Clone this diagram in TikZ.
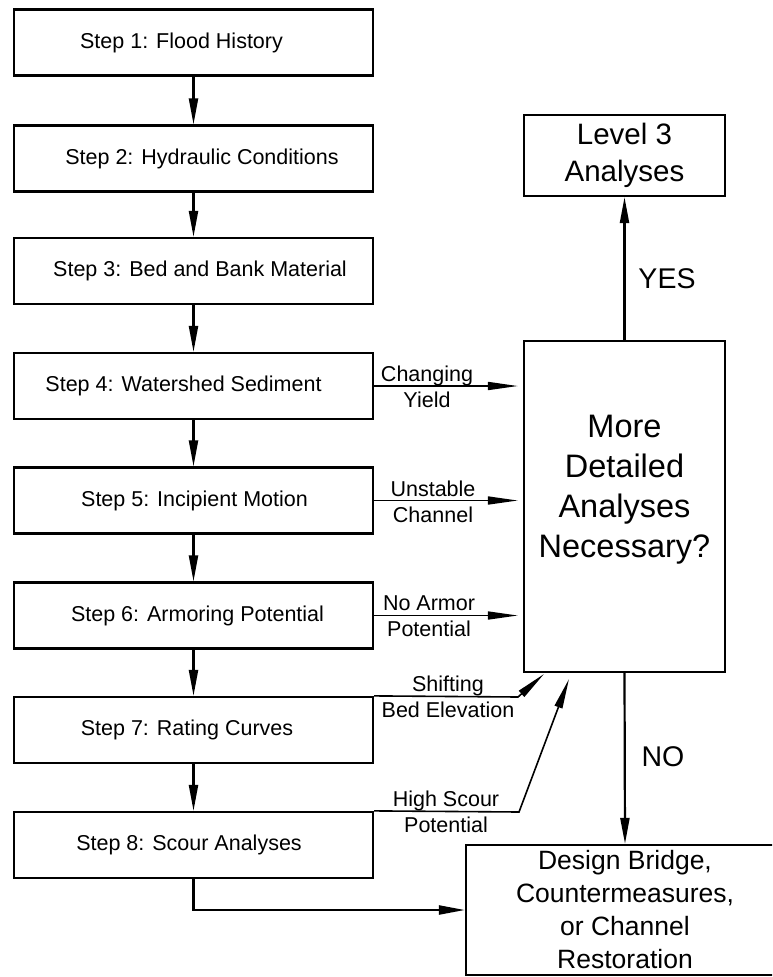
\documentclass[tikz,border=0pt]{standalone}
\usepackage{fontspec}
\setmainfont{Liberation Sans}
\usetikzlibrary{arrows.meta,calc}
\tikzset{
  stepbox/.style={draw, line width=2.2pt, minimum width=359pt, minimum height=66pt,
    inner sep=0pt, font=\fontsize{21.5}{26}\selectfont},
  tshift/.style={execute at begin node={\hspace*{#1}}},
  bigbox/.style={draw, line width=2.2pt, inner sep=0pt, align=center},
  flow/.style={line width=2.2pt, -{Triangle[length=26pt,width=9pt]}},
  side/.style={line width=1.6pt, -{Triangle[length=30pt,width=8pt]}},
  lbl/.style={font=\fontsize{21.5}{26}\selectfont, align=center, inner sep=0pt},
  yesno/.style={font=\fontsize{28.5}{34}\selectfont, inner sep=0pt}
}
\begin{document}
\begin{tikzpicture}[x=1pt,y=-1pt]
\useasboundingbox (0,0) rectangle (772,977);
\clip (0,0) rectangle (772,977);
% step boxes
\node[stepbox, tshift=-24pt] (s1) at (193.5,42.5) {Step 1: Flood History};
\node[stepbox, tshift=17pt] (s2) at (193.5,158.5) {Step 2: Hydraulic Conditions};
\node[stepbox, tshift=13pt] (s3) at (193.5,271) {Step 3: Bed and Bank Material};
\node[stepbox, tshift=-20pt] (s4) at (193.5,386) {Step 4: Watershed Sediment};
\node[stepbox, tshift=2pt] (s5) at (193.5,500.5) {Step 5: Incipient Motion};
\node[stepbox, tshift=8pt] (s6) at (193.5,615.5) {Step 6: Armoring Potential};
\node[stepbox, tshift=-13pt] (s7) at (193.5,730) {Step 7: Rating Curves};
\node[stepbox, tshift=-9pt] (s8) at (193.5,845) {Step 8: Scour Analyses};
% right boxes
\node[bigbox, minimum width=201pt, minimum height=81pt,
  font=\fontsize{29.5}{37}\selectfont] (l3) at (624.5,155.5) {Level 3\\Analyses};
\node[bigbox, minimum width=201pt, minimum height=331pt] (dec) at (624.5,506.5) {};
\node[align=center, inner sep=0pt, font=\fontsize{32.5}{40}\selectfont] (dectxt)
  at (624.5,490) {More\\Detailed\\Analyses\\Necessary?};
\node[bigbox, minimum width=318pt, minimum height=130pt,
  font=\fontsize{26.5}{33}\selectfont] (des) at (625,910)
  {Design Bridge,\\Countermeasures,\\or Channel\\Restoration};
% step chain
\draw[flow] (s1) -- (s2);
\draw[flow] (s2) -- (s3);
\draw[flow] (s3) -- (s4);
\draw[flow] (s4) -- (s5);
\draw[flow] (s5) -- (s6);
\draw[flow] (s6) -- (s7);
\draw[flow] (s7) -- (s8);
\draw[flow] (s8.south) |- (des.west);
% decision outputs
\draw[flow] (dec.north) -- (l3.south);
\draw[flow] (dec.south) -- (des.north);
\node[yesno] (yes) at (667,279) {YES};
\node[yesno] (no) at (663,757) {NO};
% side arrows
\draw[side, shorten >=5pt] (s4.east) -- (s4.east -| dec.west);
\draw[side, shorten >=5pt] (s5.east) -- (s5.east -| dec.west);
\draw[side, shorten >=5pt] (s6.east) -- (s6.east -| dec.west);
\coordinate (shb) at (518,697);
\coordinate (sht) at (544,674);
\coordinate (hsb) at (519,812);
\coordinate (hst) at (569,679);
\draw[side] (s7.north east) -- (shb) -- (sht);
\draw[side] (s8.north east) -- (hsb) -- (hst);
% side labels
\node[lbl] (l4) at (427,387) {Changing\\Yield};
\node[lbl] (l5) at (433,502) {Unstable\\Channel};
\node[lbl] (l6) at (429,616) {No Armor\\Potential};
\node[lbl] (l7) at (448,697) {Shifting\\Bed Elevation};
\node[lbl] (l8) at (446,812) {High Scour\\Potential};
\end{tikzpicture}
\end{document}
